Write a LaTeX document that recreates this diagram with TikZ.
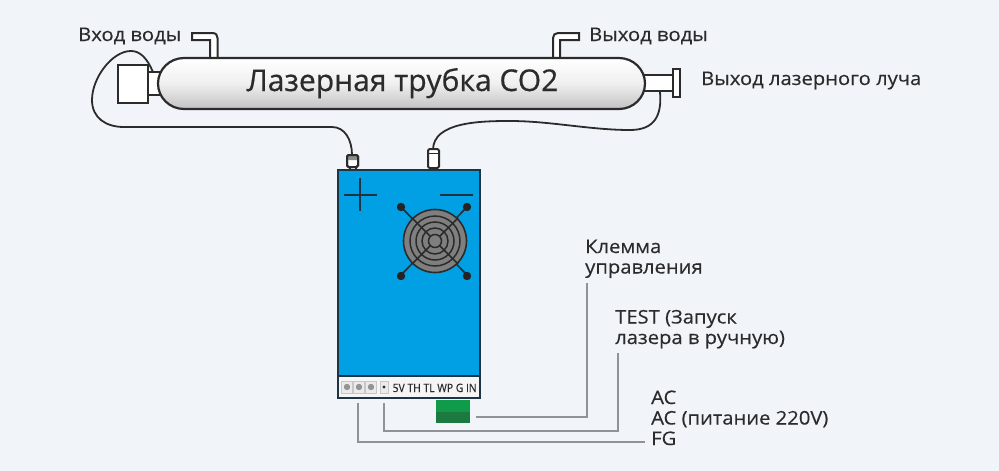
\documentclass[tikz,border=0pt]{standalone}
\usepackage{fontspec}
\setmainfont{Open Sans}
\newfontfamily\lblfont[FakeStretch=1.08,FakeBold=0.35]{Open Sans}
\newfontfamily\ttlfont[FakeBold=0.5]{Open Sans}
\newfontfamily\pinfont[FakeStretch=0.9,FakeBold=0.3]{Open Sans}
\usetikzlibrary{calc}
\definecolor{bgc}{HTML}{F1F5F9}
\definecolor{ink}{HTML}{2B2B2B}
\definecolor{blu}{HTML}{019FE3}
\definecolor{edge}{HTML}{1F3442}
\definecolor{wire}{HTML}{8F9396}
\definecolor{fang}{HTML}{7F7F7F}
\definecolor{gr1}{HTML}{0F9B4A}
\definecolor{gr2}{HTML}{1C7A40}
\tikzset{
 x=1pt,y=-1pt,
 lbl/.style={font=\lblfont\fontsize{18.7}{20.5}\selectfont,text=ink,inner sep=0pt,align=left,anchor=base west},
 part/.style={draw=ink,line width=2pt,fill=white},
 cable/.style={draw=ink,line width=1.8pt,line cap=round},
 gwire/.style={draw=wire,line width=2pt},
 pin/.style={font=\pinfont\fontsize{11.5}{12}\selectfont,text=ink,inner sep=0pt}
}
\begin{document}
\begin{tikzpicture}
\useasboundingbox (0,0) rectangle (999,471);
\fill[bgc] (0,0) rectangle (999,471);
% cables
\coordinate (lstart) at (153,72);
\coordinate (lend) at (352,155);
\coordinate (rstart) at (660,92);
\coordinate (rend) at (433,150);
\draw[cable] (lstart) .. controls (147,58) and (140,51) .. (131,51)
  .. controls (112,51) and (92,78) .. (92,100)
  .. controls (92,118) and (106,127) .. (124,127)
  -- (332,127) .. controls (345,127) and (352,140) .. (lend);
\draw[cable] (rstart) .. controls (662,115) and (655,130) .. (630,130)
  .. controls (590,130) and (550,121) .. (510,121)
  .. controls (480,121) and (433,122) .. (rend);
% pipes
\draw[part] (210,58) -- (210,40) -- (192,40) -- (192,33) -- (212,33)
  .. controls (216,33) and (217.5,35) .. (217.5,38) -- (217.5,58);
\draw[part] (553,58) -- (553,38) .. controls (553,35) and (555,33) .. (558,33)
  -- (579,33) -- (579,40) -- (560,40) -- (560,58);
% left box and neck
\draw[part] (147,72) rectangle (162,95);
\node[part,minimum width=30pt,minimum height=38pt,inner sep=0pt,anchor=north west] (inbox) at (117,64) {};
% right neck
\draw[part] (642,75) rectangle (673,91);
\draw[part] (673,69) rectangle (680,97);
% tube
\draw[draw=ink,line width=2.2pt,top color=white,bottom color=black!24,middle color=white!94!black]
 (184,58) -- (619,58) arc[start angle=90,end angle=-90,x radius=26,y radius=-25.5] -- (184,109)
 arc[start angle=-90,end angle=-270,x radius=26,y radius=-25.5] -- cycle;
\node[font=\ttlfont\fontsize{30}{32}\selectfont,text=ink,inner sep=0pt,anchor=base] (title) at (402.5,91) {Лазерная трубка CO2};
% connectors
\draw[part] (349.5,166) rectangle (355.5,171);
\draw[part] (431,166) rectangle (436,171);
\draw[part,rounded corners=1.5pt] (347,155) rectangle (358,167);
\fill[black!45,rounded corners=1pt] (347.5,155.5) rectangle (357.5,160);
\draw[draw=ink,line width=2pt,rounded corners=1.5pt] (347,155) rectangle (358,167);
\draw[part,rounded corners=1.5pt] (428,149) rectangle (439,168);
\draw[ink,line width=1.4pt] (428,153.5) -- (439,153.5);
% PSU
\fill[blu] (338,170) rectangle (480,376);
\fill[white!96!black] (338,376) rectangle (480,398);
\draw[edge,line width=2pt] (338,376) -- (480,376);
\draw[edge,line width=2.4pt] (338,170) rectangle (480,398);
\draw[edge,line width=1.7pt] (344,195) -- (377,195) (360,178) -- (360,211);
\draw[edge,line width=1.7pt] (440,195) -- (473,195);
% fan
\coordinate (fc) at (435,241);
\draw[edge,line width=1.7pt] (401,207) -- (467,275) (467,207) -- (401,275);
\fill[ink!85!black] (401,207) circle (4.2) (467,207) circle (4.2) (401,276) circle (4.2) (467,276) circle (4.2);
\draw[ink,line width=1.6pt,fill=fang] (fc) circle (31.5);
\foreach \r in {25,19,13}{\draw[ink,line width=1.5pt] (fc) circle (\r);}
\draw[ink,line width=1.6pt] (fc) ++(-23,-23) -- ++(46,46) (fc) ++(23,-23) -- ++(-46,46);
\draw[ink,line width=1.5pt,fill=fang] (fc) circle (6.5);
% terminals
\foreach \x in {347,359,371}{
 \draw[black!22,line width=1pt,fill=black!8] (\x-5.5,381) rectangle (\x+5.5,393);
 \fill[black!42] (\x,387) circle (3.2);}
\draw[black!22,line width=.8pt,fill=black!8] (380,381) rectangle (388,393);
\fill[ink] (384,387) circle (1.6);
\node[pin,anchor=base west] (pins) at (392.5,392) {5V TH TL WP G IN};
% green block
\fill[gr1] (436,400) rectangle (470,412);
\fill[gr2] (436,412) rectangle (470,423);
\node[inner sep=0pt,minimum width=34pt,minimum height=23pt,anchor=north west] (gb) at (436,400) {};
% wires
\coordinate (a1) at (476,417); \coordinate (a2) at (587,417); \coordinate (a3) at (587,283);
\draw[gwire] (a1) -- (a2) -- (a3);
\coordinate (b1) at (384,403); \coordinate (b2) at (384,431); \coordinate (b3) at (618,431); \coordinate (b4) at (618,353);
\draw[gwire] (b1) -- (b2) -- (b3) -- (b4);
\coordinate (c1) at (358,403); \coordinate (c2) at (358,442); \coordinate (c3) at (645,442);
\draw[gwire] (c1) -- (c2) -- (c3);
% labels
\node[lbl] (l1) at (78,41) {Вход воды};
\node[lbl] (l2) at (589,41) {Выход воды};
\node[lbl] (l3) at (701,85) {Выход лазерного луча};
\node[lbl] (l4) at (585,273.5) {Клемма\\управления};
\node[lbl] (l6) at (615,344) {TEST (Запуск\\лазера в ручную)};
\node[lbl] (l8) at (651,445) {AC\\AC (питание 220V)\\FG};
\end{tikzpicture}
\end{document}
